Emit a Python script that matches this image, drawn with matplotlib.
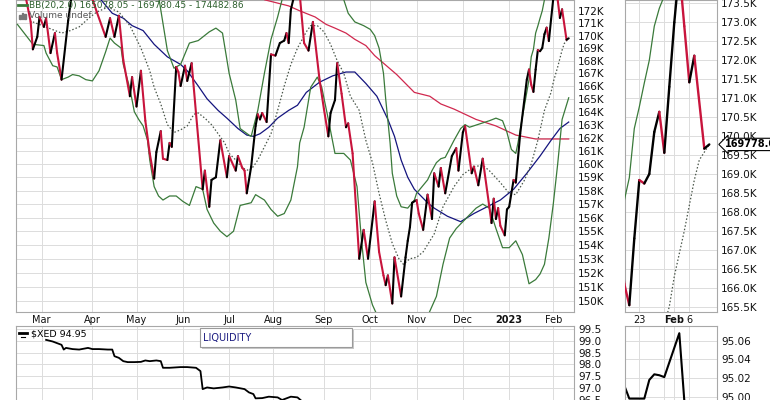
import numpy as np
import pandas as pd
import matplotlib
matplotlib.use("Agg")
import matplotlib.pyplot as plt
from matplotlib.collections import LineCollection
from matplotlib.patches import Rectangle
from matplotlib.ticker import NullLocator

# trading calendar (US market holidays skipped, like the source chart)
HOLIDAYS = ["2022-02-21", "2022-04-15", "2022-05-30", "2022-06-20", "2022-07-04",
            "2022-09-05", "2022-11-24", "2022-12-26", "2023-01-02", "2023-01-16"]
sessions = pd.bdate_range("2022-02-10", "2023-02-10", freq="C", holidays=HOLIDAYS)

# --- close (at turning points) ---
price_dates = [
    "2022-02-16", "2022-02-22", "2022-02-23", "2022-02-25", "2022-02-28", "2022-03-02", "2022-03-03",
    "2022-03-07", "2022-03-09", "2022-03-10", "2022-03-14", "2022-03-17", "2022-03-21", "2022-03-25",
    "2022-03-31", "2022-04-05", "2022-04-11", "2022-04-13", "2022-04-18", "2022-04-20", "2022-04-22",
    "2022-04-27", "2022-04-28", "2022-05-02", "2022-05-04", "2022-05-06", "2022-05-10", "2022-05-12",
    "2022-05-13", "2022-05-17", "2022-05-18", "2022-05-20", "2022-05-23", "2022-05-24", "2022-05-26",
    "2022-05-27", "2022-05-31", "2022-06-02", "2022-06-03", "2022-06-06", "2022-06-07", "2022-06-14",
    "2022-06-15", "2022-06-17", "2022-06-21", "2022-06-23", "2022-06-27", "2022-06-30", "2022-07-01",
    "2022-07-07", "2022-07-08", "2022-07-12", "2022-07-13", "2022-07-14", "2022-07-18", "2022-07-20",
    "2022-07-21", "2022-07-22", "2022-07-25", "2022-07-27", "2022-07-29", "2022-08-02", "2022-08-04",
    "2022-08-08", "2022-08-09", "2022-08-10", "2022-08-11", "2022-08-15", "2022-08-16", "2022-08-17",
    "2022-08-19", "2022-08-23", "2022-08-25", "2022-08-30", "2022-09-01", "2022-09-06", "2022-09-07",
    "2022-09-09", "2022-09-12", "2022-09-14", "2022-09-16", "2022-09-19", "2022-09-21", "2022-09-26",
    "2022-09-28", "2022-09-30", "2022-10-05", "2022-10-07", "2022-10-11", "2022-10-12", "2022-10-13",
    "2022-10-17", "2022-10-18", "2022-10-21", "2022-10-25", "2022-10-26", "2022-10-27", "2022-10-28",
    "2022-11-01", "2022-11-02", "2022-11-04", "2022-11-08", "2022-11-10", "2022-11-11", "2022-11-15",
    "2022-11-16", "2022-11-18", "2022-11-23", "2022-11-28", "2022-11-29", "2022-12-01", "2022-12-02",
    "2022-12-07", "2022-12-08", "2022-12-12", "2022-12-14", "2022-12-19", "2022-12-20", "2022-12-21",
    "2022-12-22", "2022-12-23", "2022-12-27", "2022-12-29", "2022-12-30", "2023-01-03", "2023-01-05",
    "2023-01-06", "2023-01-10", "2023-01-13", "2023-01-17", "2023-01-18", "2023-01-19", "2023-01-20",
    "2023-01-23", "2023-01-24", "2023-01-25", "2023-01-26", "2023-01-27", "2023-01-30", "2023-01-31",
    "2023-02-01", "2023-02-02", "2023-02-03", "2023-02-06", "2023-02-07", "2023-02-09", "2023-02-10"]
price_vals = [
    173.8, 171.1, 168.9, 169.9, 171.5, 170.7, 171.4,
    168.6, 170.2, 168.6, 166.5, 171.2, 173.8, 174.3,
    173.5, 171.9, 169.9, 171.4, 169.9, 171.6, 168.05,
    165.2, 166.7, 164.4, 167.2, 163.3, 160.8, 158.9,
    160.9, 162.5, 160.4, 160.3, 161.6, 161.3, 167.5,
    167.1, 166.0, 167.6, 166.4, 167.1, 167.8, 158.1,
    159.5, 156.8, 158.8, 159.0, 161.8, 159.0, 160.6,
    159.5, 160.6, 159.7, 159.5, 157.8, 159.8, 162.9,
    163.8, 163.4, 163.9, 163.2, 168.5, 168.4, 169.4,
    169.6, 170.2, 169.4, 172.1, 173.6, 174.0, 173.4,
    169.4, 168.8, 171.1, 166.5, 164.2, 162.1, 163.9,
    164.9, 167.8, 165.4, 162.8, 163.1, 160.8, 153.0,
    155.1, 153.0, 157.2, 153.5, 151.8, 151.1, 151.8,
    149.8, 153.1, 150.3, 153.1, 154.3, 155.3, 157.1,
    157.3, 156.3, 155.1, 157.7, 155.9, 159.3, 158.3,
    159.7, 157.8, 160.6, 161.2, 159.5, 162.4, 162.9,
    159.3, 159.8, 158.4, 160.4, 156.8, 155.6, 157.4,
    155.9, 156.7, 155.4, 154.7, 156.6, 156.8, 158.8,
    158.6, 162.3, 166.5, 167.3, 166.1, 165.54, 167.3,
    168.84, 168.75, 169.0, 170.11, 170.64, 169.56, 171.3,
    173.0, 174.4, 172.9, 171.42, 172.12, 169.67, 169.78]

# --- Bollinger bands (20, 2.0) ---
bb_up_dates = [
    "2022-05-11", "2022-05-16", "2022-05-20", "2022-05-25", "2022-05-31", "2022-06-06", "2022-06-10",
    "2022-06-17", "2022-06-23", "2022-06-28", "2022-07-01", "2022-07-07", "2022-07-11", "2022-07-15",
    "2022-07-18", "2022-07-21", "2022-07-26", "2022-07-29", "2022-08-03", "2022-08-05", "2022-08-10",
    "2022-08-22", "2022-09-06", "2022-09-13", "2022-09-15", "2022-09-19", "2022-09-22", "2022-09-28",
    "2022-10-03", "2022-10-05", "2022-10-07", "2022-10-11", "2022-10-12", "2022-10-14", "2022-10-17",
    "2022-10-19", "2022-10-21", "2022-10-26", "2022-10-27", "2022-10-31", "2022-11-01", "2022-11-08",
    "2022-11-10", "2022-11-14", "2022-11-16", "2022-11-18", "2022-11-25", "2022-11-30", "2022-12-02",
    "2022-12-06", "2022-12-19", "2022-12-22", "2022-12-28", "2022-12-30", "2023-01-04", "2023-01-06",
    "2023-01-09", "2023-01-11", "2023-01-17", "2023-01-18", "2023-01-19", "2023-01-20", "2023-01-23",
    "2023-01-24", "2023-01-25", "2023-01-26", "2023-01-27", "2023-01-30", "2023-02-01", "2023-02-06",
    "2023-02-10"]
bb_up_vals = [
    175.0, 173.2, 168.8, 167.4, 167.7, 169.4, 169.6,
    170.3, 170.6, 170.2, 167.0, 164.9, 162.7, 162.2,
    162.1, 164.1, 167.0, 169.7, 171.5, 172.9, 175.0,
    177.0, 176.0, 174.0, 172.9, 171.8, 171.1, 170.8,
    170.5, 170.0, 169.0, 167.0, 165.0, 161.6, 159.3,
    157.6, 156.8, 156.7, 156.9, 157.3, 157.8, 158.8,
    159.5, 160.1, 160.4, 160.5, 161.8, 162.7, 163.0,
    162.8, 163.3, 163.5, 163.3, 162.4, 161.1, 160.8,
    161.6, 163.6, 166.5, 168.3, 168.9, 170.2, 170.77,
    171.4, 172.0, 172.9, 173.37, 173.7, 174.1, 174.4,
    174.48]

bb_mid_dates = [
    "2022-02-23", "2022-03-14", "2022-03-18", "2022-03-24", "2022-03-31", "2022-04-05", "2022-04-12",
    "2022-04-20", "2022-04-27", "2022-05-04", "2022-05-10", "2022-05-12", "2022-05-17", "2022-05-20",
    "2022-05-25", "2022-05-31", "2022-06-03", "2022-06-08", "2022-06-10", "2022-06-15", "2022-06-21",
    "2022-06-24", "2022-06-29", "2022-07-01", "2022-07-07", "2022-07-12", "2022-07-15", "2022-07-19",
    "2022-07-21", "2022-07-26", "2022-07-29", "2022-08-03", "2022-08-08", "2022-08-11", "2022-08-16",
    "2022-08-22", "2022-08-24", "2022-08-29", "2022-09-01", "2022-09-07", "2022-09-12", "2022-09-15",
    "2022-09-20", "2022-09-26", "2022-09-29", "2022-10-04", "2022-10-07", "2022-10-12", "2022-10-17",
    "2022-10-20", "2022-10-24", "2022-10-27", "2022-11-01", "2022-11-04", "2022-11-11", "2022-11-17",
    "2022-11-25", "2022-12-01", "2022-12-08", "2022-12-14", "2022-12-19", "2022-12-27", "2023-01-03",
    "2023-01-06", "2023-01-12", "2023-01-18", "2023-01-23", "2023-01-26", "2023-01-31", "2023-02-01",
    "2023-02-03", "2023-02-07", "2023-02-08", "2023-02-10"]
bb_mid_vals = [
    171.1, 170.2, 170.4, 170.7, 171.5, 171.9, 172.3,
    171.9, 170.8, 169.0, 167.2, 165.9, 164.6, 163.0,
    162.4, 162.6, 162.9, 163.8, 163.9, 163.5, 163.0,
    162.3, 161.6, 160.8, 160.3, 159.7, 159.5, 159.8,
    160.3, 161.3, 162.3, 164.1, 166.0, 167.7, 169.0,
    170.3, 170.8, 170.8, 170.3, 169.3, 168.0, 167.0,
    165.2, 164.1, 161.8, 160.1, 157.8, 155.8, 154.1,
    153.0, 152.6, 153.0, 153.1, 153.5, 154.8, 156.8,
    158.3, 159.2, 159.8, 159.9, 159.5, 158.6, 157.8,
    157.7, 158.8, 160.0, 161.8, 164.1, 165.5, 166.3,
    167.5, 168.84, 169.37, 169.78]

bb_low_dates = [
    "2022-02-11", "2022-02-23", "2022-03-02", "2022-03-03", "2022-03-08", "2022-03-10", "2022-03-14",
    "2022-03-17", "2022-03-21", "2022-03-24", "2022-03-29", "2022-04-01", "2022-04-06", "2022-04-11",
    "2022-04-13", "2022-04-18", "2022-04-21", "2022-04-22", "2022-04-27", "2022-04-29", "2022-05-03",
    "2022-05-05", "2022-05-09", "2022-05-10", "2022-05-12", "2022-05-16", "2022-05-18", "2022-05-23",
    "2022-05-26", "2022-06-01", "2022-06-06", "2022-06-09", "2022-06-14", "2022-06-16", "2022-06-22",
    "2022-06-27", "2022-06-30", "2022-07-06", "2022-07-11", "2022-07-18", "2022-07-20", "2022-07-26",
    "2022-07-29", "2022-08-03", "2022-08-08", "2022-08-11", "2022-08-16", "2022-08-17", "2022-08-19",
    "2022-08-24", "2022-08-29", "2022-08-31", "2022-09-06", "2022-09-09", "2022-09-15", "2022-09-20",
    "2022-09-23", "2022-09-27", "2022-09-29", "2022-10-04", "2022-10-11", "2022-10-20", "2022-10-28",
    "2022-11-08", "2022-11-14", "2022-11-17", "2022-11-22", "2022-11-28", "2022-12-01", "2022-12-06",
    "2022-12-09", "2022-12-14", "2022-12-19", "2022-12-22", "2022-12-28", "2023-01-03", "2023-01-06",
    "2023-01-11", "2023-01-17", "2023-01-20", "2023-01-24", "2023-01-26", "2023-01-30", "2023-02-01",
    "2023-02-03", "2023-02-07", "2023-02-10"]
bb_low_vals = [
    170.9, 169.3, 169.2, 168.6, 167.6, 167.5, 166.5,
    166.7, 166.9, 166.8, 166.5, 166.4, 167.2, 168.7,
    169.8, 169.4, 169.0, 167.7, 165.8, 164.0, 163.4,
    162.9, 161.8, 160.3, 158.3, 157.6, 157.3, 157.6,
    157.6, 157.2, 156.9, 158.3, 158.1, 156.6, 155.6,
    155.0, 154.6, 155.0, 156.9, 157.1, 157.7, 157.3,
    156.6, 156.1, 156.3, 157.3, 159.8, 161.6, 162.8,
    165.9, 166.7, 165.9, 163.4, 160.8, 160.8, 160.3,
    158.3, 154.4, 151.3, 149.7, 148.0, 147.4, 147.9,
    148.9, 150.3, 152.6, 154.5, 155.2, 155.7, 156.2,
    156.7, 157.0, 156.7, 155.2, 153.8, 153.8, 154.3,
    153.3, 151.2, 151.5, 151.9, 152.6, 154.5, 157.0,
    160.0, 163.4, 165.08]

# --- moving averages ---
ma_blue_dates = [
    "2022-04-05", "2022-04-14", "2022-04-22", "2022-04-28", "2022-05-05", "2022-05-12", "2022-05-20",
    "2022-05-31", "2022-06-03", "2022-06-10", "2022-06-16", "2022-06-24", "2022-06-30", "2022-07-08",
    "2022-07-14", "2022-07-19", "2022-07-22", "2022-07-28", "2022-08-03", "2022-08-10", "2022-08-16",
    "2022-08-22", "2022-08-30", "2022-09-08", "2022-09-16", "2022-09-22", "2022-09-29", "2022-10-06",
    "2022-10-13", "2022-10-18", "2022-10-21", "2022-10-26", "2022-10-31", "2022-11-03", "2022-11-08",
    "2022-11-11", "2022-11-21", "2022-11-30", "2022-12-08", "2022-12-16", "2022-12-27", "2023-01-05",
    "2023-01-13", "2023-01-24", "2023-01-31", "2023-02-06", "2023-02-10"]
ma_blue_vals = [
    173.3, 171.8, 171.4, 170.8, 170.4, 169.3, 168.3,
    167.7, 167.2, 166.0, 165.0, 164.1, 163.5, 162.7,
    162.2, 162.1, 162.3, 162.8, 163.5, 164.1, 164.5,
    165.5, 166.3, 166.8, 167.1, 167.1, 166.2, 165.2,
    163.4, 162.1, 160.3, 159.0, 158.1, 157.6, 157.1,
    156.7, 156.1, 155.7, 156.3, 156.8, 157.3, 158.1,
    159.3, 160.6, 161.8, 162.7, 163.2]

ma_red_dates = [
    "2022-07-22", "2022-07-26", "2022-08-10", "2022-08-17", "2022-08-26", "2022-09-02", "2022-09-09",
    "2022-09-16", "2022-09-22", "2022-09-29", "2022-10-05", "2022-10-19", "2022-10-31", "2022-11-09",
    "2022-11-16", "2022-11-25", "2022-12-09", "2022-12-22", "2023-01-06", "2023-01-20", "2023-02-10"]
ma_red_vals = [
    173.6, 172.9, 172.4, 172.0, 171.5, 170.9, 170.6,
    170.2, 169.7, 169.2, 168.4, 166.9, 165.5, 165.2,
    164.6, 164.2, 163.4, 162.9, 162.2, 161.9, 161.9]

# --- lower panel: $XED ---
xed_dates = [
    "2022-03-03", "2022-03-08", "2022-03-14", "2022-03-15", "2022-03-16", "2022-03-21", "2022-03-24",
    "2022-03-30", "2022-04-01", "2022-04-06", "2022-04-12", "2022-04-14", "2022-04-18", "2022-04-20",
    "2022-04-22", "2022-04-26", "2022-04-29", "2022-05-04", "2022-05-06", "2022-05-10", "2022-05-13",
    "2022-05-17", "2022-05-18", "2022-05-23", "2022-05-31", "2022-06-03", "2022-06-09", "2022-06-13",
    "2022-06-14", "2022-06-16", "2022-06-22", "2022-06-28", "2022-07-01", "2022-07-07", "2022-07-13",
    "2022-07-15", "2022-07-19", "2022-07-20", "2022-07-25", "2022-07-28", "2022-08-03", "2022-08-05",
    "2022-08-11", "2022-08-16", "2022-08-18", "2022-09-06", "2022-10-04", "2022-11-08", "2022-12-14",
    "2023-01-18", "2023-01-19", "2023-01-24", "2023-01-25", "2023-01-26", "2023-01-27", "2023-01-30",
    "2023-02-02", "2023-02-03", "2023-02-10"]
xed_vals = [
    99.04, 98.97, 98.83, 98.63, 98.70, 98.65, 98.63,
    98.70, 98.65, 98.65, 98.63, 98.63, 98.35, 98.28,
    98.14, 98.10, 98.10, 98.11, 98.17, 98.14, 98.17,
    98.14, 97.86, 97.86, 97.89, 97.89, 97.86, 97.72,
    96.96, 97.03, 96.99, 97.03, 97.07, 97.03, 96.96,
    96.82, 96.75, 96.57, 96.58, 96.64, 96.61, 96.50,
    96.64, 96.61, 96.45, 96.10, 95.70, 95.40, 95.15,
    95.012, 94.998, 94.998, 95.018, 95.024, 95.023, 95.021,
    95.068, 94.996, 94.95]

main_ticks = list(range(150, 173))
zoom_ticks = [165.5 + 0.5 * k for k in range(17)]
xed_ticks = [96.5 + 0.5 * k for k in range(7)]
xed_zoom_ticks = [95.00, 95.02, 95.04, 95.06]
zoom_day_lbls = ["23", "Feb", "6"]
zoom_day_dates = ["2023-01-23", "2023-02-01", "2023-02-06"]
zoom_grid_dates = ["2023-01-30"]
bb_legend = "BB(20,2.0) 165078.05 - 169780.45 - 174482.86"
last_close = "169778.00"

UP, DOWN = "#000000", "#c8143c"
BAND, MID = "#3a7a3a", "#4a564a"
BLUE, RED = "#14147e", "#d0284e"
GRID = "#dcdcdc"
FONT = "DejaVu Sans"


def pos(dates):
    d = pd.to_datetime(dates)
    idx = sessions.get_indexer(d)
    miss = idx < 0
    if miss.any():
        print("not a session:", list(np.array(dates)[miss]))
        idx[miss] = sessions.searchsorted(d[miss])
    return idx


W, H = 770, 400
fig = plt.figure(figsize=(W / 100, H / 100), dpi=100)


def rect(x0, y0, x1, y1):
    return [x0 / W, 1 - y1 / H, (x1 - x0) / W, (y1 - y0) / H]


ax = fig.add_axes(rect(16, 0, 574, 312))
axz = fig.add_axes(rect(625, 0, 717, 312))
bx = fig.add_axes(rect(16, 326, 574, 400))
bxz = fig.add_axes(rect(625, 326, 717, 400))

for a in (ax, axz, bx, bxz):
    for s in a.spines.values():
        s.set_color("#a8a8a8")
        s.set_linewidth(0.8)
    a.grid(True, which="both", color=GRID, linewidth=0.7)
    a.set_axisbelow(True)
    a.yaxis.tick_right()
    a.tick_params(which="both", length=0, labelsize=7.5, pad=3, colors="#111111")
for a in (bx, bxz):
    a.spines["bottom"].set_visible(False)


def price_line(a, lw):
    x = pos(price_dates)
    y = np.array(price_vals)
    pts = np.column_stack([x, y])
    segs = np.stack([pts[:-1], pts[1:]], axis=1)
    cols = np.where(np.diff(y) >= 0, UP, DOWN)
    a.add_collection(LineCollection(segs, colors=list(cols), linewidths=lw,
                                    zorder=6, capstyle="round", joinstyle="round"))


def overlays(a, lw):
    a.plot(pos(ma_red_dates), ma_red_vals, color=RED, lw=lw, zorder=3)
    a.plot(pos(ma_blue_dates), ma_blue_vals, color=BLUE, lw=lw, zorder=3)
    a.plot(pos(bb_up_dates), bb_up_vals, color=BAND, lw=lw, zorder=4)
    a.plot(pos(bb_low_dates), bb_low_vals, color=BAND, lw=lw, zorder=4)
    a.plot(pos(bb_mid_dates), bb_mid_vals, color=MID, lw=0.9, ls=(0, (1.2, 1.6)), zorder=4)


# month starts for the x grid / labels
month_first = [i for i in range(1, len(sessions)) if sessions[i].month != sessions[i - 1].month]
month_lbls = ["2023" if sessions[i].month == 1 else sessions[i].strftime("%b") for i in month_first]

# ---- main price panel (log scale) ----
overlays(ax, 0.9)
price_line(ax, 1.5)
ax.set_yscale("log")
ax.set_ylim(149.2, 172.88)
ax.set_xlim(0.35, 253.4)
ax.yaxis.set_minor_locator(NullLocator())
ax.set_yticks(main_ticks)
ax.set_yticklabels([f"{v}K" for v in main_ticks], family=FONT)
ax.set_xticks(month_first)
ax.set_xticklabels(month_lbls, family=FONT, fontsize=7)
for t in ax.get_xticklabels():
    if t.get_text() == "2023":
        t.set_fontweight("bold")
ax.tick_params(axis="x", pad=2.5)

# ---- zoomed price panel ----
overlays(axz, 0.9)
price_line(axz, 1.7)
axz.set_ylim(165.36, 173.59)
axz.set_xlim(234.14, 252.54)
axz.set_yticks(zoom_ticks)
axz.set_yticklabels([f"{v:.1f}K" for v in zoom_ticks], family=FONT)
zx = pos(zoom_day_dates)
axz.set_xticks(zx)
axz.set_xticks(pos(zoom_grid_dates), minor=True)
axz.set_xticklabels(zoom_day_lbls, family=FONT, fontsize=7)
for t in axz.get_xticklabels():
    if t.get_text() == "Feb":
        t.set_fontweight("bold")
axz.tick_params(axis="x", pad=2.5)
axz.annotate(last_close, xy=(1.0, price_vals[-1]), xycoords=("axes fraction", "data"),
             xytext=(6, 0), textcoords="offset points", va="center", ha="left",
             fontsize=7, fontweight="bold", family=FONT,
             bbox=dict(boxstyle="larrow,pad=0.12", fc="white", ec="black", lw=0.8),
             zorder=10)

# ---- $XED panel ----
bx.plot(pos(xed_dates), xed_vals, color="black", lw=1.3)
bx.set_xlim(0.35, 253.4)
bx.set_ylim(96.54, 99.625)
bx.set_yticks(xed_ticks)
bx.set_yticklabels([f"{v:.1f}" for v in xed_ticks], family=FONT)
bx.set_xticks(month_first)
bx.set_xticklabels([])

bxz.plot(pos(xed_dates), xed_vals, color="black", lw=1.5)
bxz.set_xlim(234.14, 252.54)
bxz.set_ylim(94.9965, 95.0757)
bxz.set_yticks(xed_zoom_ticks)
bxz.set_yticklabels([f"{v:.2f}" for v in xed_zoom_ticks], family=FONT)
bxz.set_xticks(zx)
bxz.set_xticks(pos(zoom_grid_dates), minor=True)
bxz.set_xticklabels([])


# ---- legends / labels (pixel placed) ----
def px(x, y):
    return x / W, 1 - y / H


fig.add_artist(plt.Line2D([18 / W, 27 / W], [1 - 5 / H] * 2, color=BAND, lw=2))
fig.text(*px(29, 5.5), bb_legend, color="#2d5f2d", fontsize=6.5, family=FONT, va="center")
for k, hgt in enumerate([4, 6, 5]):
    fig.add_artist(Rectangle(px(19 + 2.6 * k, 19), 1.8 / W, hgt / H, color="#777777"))
fig.text(*px(29, 15.5), "Volume undef", color="#555555", fontsize=6.5, family=FONT, va="center")

fig.add_artist(plt.Line2D([19 / W, 27 / W], [1 - 333 / H] * 2, color="black", lw=2))
fig.add_artist(plt.Line2D([21 / W, 25 / W], [1 - 337 / H] * 2, color="black", lw=0.8))
fig.text(*px(31, 333.5), "$XED 94.95", color="black", fontsize=6.8, family=FONT, va="center")

fig.add_artist(Rectangle(px(202, 349), 152 / W, 19 / H, fc="#c8c8c8", ec="none"))
fig.add_artist(Rectangle(px(200, 347), 152 / W, 19 / H, fc="white", ec="#9a9a9a", lw=0.8))
fig.text(*px(203, 337.5), "LIQUIDITY", color="#1a1a80", fontsize=7, family=FONT, va="center")

fig.savefig("out.png", dpi=100, facecolor="white")
